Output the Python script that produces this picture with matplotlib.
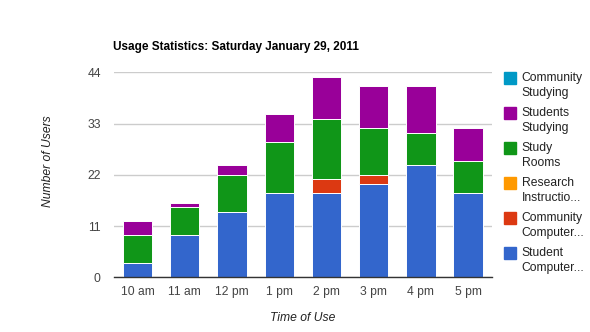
import matplotlib
matplotlib.use("Agg")
import matplotlib.pyplot as plt
from matplotlib.patches import Rectangle
import numpy as np

plt.rcParams['font.family'] = ['Liberation Sans', 'DejaVu Sans']

hours = ["10 am", "11 am", "12 pm", "1 pm", "2 pm", "3 pm", "4 pm", "5 pm"]

# Stacked from the bottom up
student_computers = [3, 9, 14, 18, 18, 20, 24, 18]
community_computers = [0, 0, 0, 0, 3, 2, 0, 0]
research_instruction = [0, 0, 0, 0, 0, 0, 0, 0]
study_rooms = [6, 6, 8, 11, 13, 10, 7, 7]
students_studying = [3, 1, 2, 6, 9, 9, 10, 7]
community_studying = [0, 0, 0, 0, 0, 0, 0, 0]

series = [
    ("Student\nComputer...", student_computers, "#3366cc"),
    ("Community\nComputer...", community_computers, "#dc3912"),
    ("Research\nInstructio...", research_instruction, "#ff9900"),
    ("Study\nRooms", study_rooms, "#109618"),
    ("Students\nStudying", students_studying, "#990099"),
    ("Community\nStudying", community_studying, "#0099c6"),
]

y_ticks = [0, 11, 22, 33, 44]

W, H = 590, 332
FS = 8.7
fig = plt.figure(figsize=(W / 100, H / 100), dpi=100)
ax = fig.add_axes([114 / W, 1 - 277.3 / H, (491.7 - 114) / W, (277.3 - 72.3) / H])

x = np.arange(len(hours))
bottom = np.zeros(len(hours))
for name, vals, color in series:
    vals = np.array(vals, dtype=float)
    mask = vals > 0
    ax.bar(x[mask], vals[mask], width=0.62, bottom=bottom[mask], color=color,
           edgecolor="white", linewidth=0.7, zorder=3)
    bottom += vals

ax.set_xlim(-0.5, len(hours) - 0.5)
ax.set_ylim(0, 44)
ax.set_yticks(y_ticks)
ax.set_yticklabels([str(v) for v in y_ticks])
ax.set_xticks(x)
ax.set_xticklabels(hours)
ax.tick_params(axis="both", length=0, labelsize=FS, colors="#444444")
ax.tick_params(axis="y", pad=9.5)
ax.tick_params(axis="x", pad=6)
ax.grid(axis="y", color="#cccccc", linewidth=1, zorder=0)
for s in ["top", "right", "left"]:
    ax.spines[s].set_visible(False)
ax.spines["bottom"].set_color("#333333")
ax.spines["bottom"].set_linewidth(1)
ax.spines["bottom"].set_zorder(4)

fig.text(113 / W, 1 - 46.7 / H, "Usage Statistics: Saturday January 29, 2011",
         fontsize=8.5, fontweight="bold", ha="left", va="center", color="#000000")
fig.text(48.3 / W, 1 - 161 / H, "Number of Users", rotation=90, fontsize=FS,
         style="italic", ha="center", va="center", color="#222222")
fig.text(303 / W, 1 - 317.7 / H, "Time of Use", fontsize=FS,
         style="italic", ha="center", va="center", color="#222222")

# Legend, listed from the top of the stack downwards
for i, (name, vals, color) in enumerate(reversed(series)):
    top = 72.3 + i * 35
    fig.patches.append(Rectangle((504 / W, 1 - (top + 11.7) / H), 11.7 / W, 11.7 / H,
                                 transform=fig.transFigure, color=color))
    line1, line2 = name.split("\n")
    fig.text(521.7 / W, 1 - (top + 6) / H, line1, fontsize=FS, ha="left",
             va="center", color="#222222")
    fig.text(521.7 / W, 1 - (top + 21) / H, line2, fontsize=FS, ha="left",
             va="center", color="#222222")

fig.savefig("out.png", dpi=100)
